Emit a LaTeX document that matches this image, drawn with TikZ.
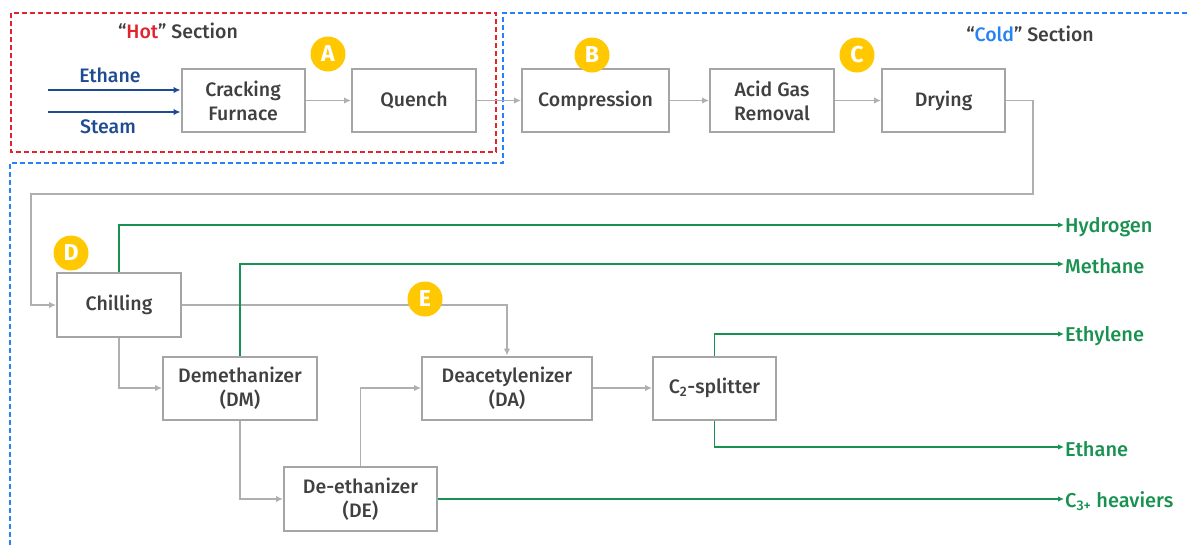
\documentclass[tikz,border=0pt]{standalone}
\usepackage{fontspec}
\setmainfont{Fira Sans}
\newfontfamily\medfont{Fira Sans Medium}
\usetikzlibrary{arrows.meta}
\definecolor{boxgray}{RGB}{165,165,165}
\definecolor{linegray}{RGB}{175,175,175}
\definecolor{txtgray}{RGB}{64,64,64}
\definecolor{flowgreen}{RGB}{25,145,80}
\definecolor{feedblue}{RGB}{30,75,145}
\definecolor{hotred}{RGB}{225,35,45}
\definecolor{coldblue}{RGB}{40,130,245}
\definecolor{badgeyellow}{RGB}{255,200,0}
\tikzset{
  unit/.style={draw=boxgray, line width=2pt, fill=white, text=txtgray, align=center,
    font=\medfont\fontsize{19.5}{24}\selectfont, inner sep=2pt, minimum height=63pt},
  badge/.style={circle, fill=badgeyellow, text=white, minimum size=35pt, inner sep=0pt,
    font=\fontsize{23}{23}\selectfont\bfseries},
  grayflow/.style={draw=linegray, line width=1.4pt, -{Latex[length=7pt,width=6.5pt]}},
  greenflow/.style={draw=flowgreen, line width=1.3pt, -{Latex[length=6pt,width=5.5pt]}},
  blueflow/.style={draw=feedblue, line width=1.4pt, -{Latex[length=7pt,width=6.5pt]}},
  outlabel/.style={anchor=west, inner sep=1pt, text=flowgreen, font=\medfont\fontsize{20}{22}\selectfont},
  feedlabel/.style={inner sep=1pt, text=feedblue, font=\medfont\fontsize{19.5}{22}\selectfont},
  section/.style={inner sep=1pt, text=txtgray, font=\medfont\fontsize{19.5}{22}\selectfont},
  hotbox/.style={draw=hotred, line width=2pt, dash pattern=on 5pt off 3pt},
  coldbox/.style={draw=coldblue, line width=2pt, dash pattern=on 5pt off 3pt}
}
\begin{document}
\begin{tikzpicture}[x=1pt,y=-1pt]
\useasboundingbox (0,0) rectangle (1190,544);

% section frames
\draw[hotbox] (11,13) rectangle (496,152);
\draw[coldbox] (1195,13) -- (503,13) -- (503,163) -- (10,163) -- (10,550);
\node[section] (hot) at (178,31) {“\textcolor{hotred}{Hot}” Section};
\node[section] (cold) at (1030,34) {“\textcolor{coldblue}{Cold}” Section};

% units
\node[unit, minimum width=123pt] (cf) at (243,100.5) {Cracking\\Furnace};
\node[unit, minimum width=124pt] (qu) at (414,100.5) {Quench};
\node[unit, minimum width=147pt] (co) at (595.5,100.5) {Compression};
\node[unit, minimum width=124pt] (ag) at (772,100.5) {Acid Gas\\Removal};
\node[unit, minimum width=123pt] (dr) at (943.5,100.5) {Drying};
\node[unit, minimum width=124pt, minimum height=64pt] (ch) at (119,305) {Chilling};
\node[unit, minimum width=154pt] (dm) at (240,388) {Demethanizer\\(DM)};
\node[unit, minimum width=170pt] (da) at (507,388) {Deacetylenizer\\(DA)};
\node[unit, minimum width=123pt] (c2) at (714.5,388) {C\textsubscript{2}-splitter};
\node[unit, minimum width=153pt, minimum height=64pt] (de) at (360.5,499) {De-ethanizer\\(DE)};

% feeds
\coordinate (ethIn) at (48,90);
\coordinate (stmIn) at (48,112);
\node[feedlabel] (ethL) at (110,75) {Ethane};
\node[feedlabel] (stmL) at (108,127) {Steam};
\draw[blueflow] (ethIn) -- (ethIn -| cf.west);
\draw[blueflow] (stmIn) -- (stmIn -| cf.west);

% gray process flow
\draw[grayflow] (cf.east) -- (qu.west);
\draw[grayflow] (qu.east) -- (co.west);
\draw[grayflow] (co.east) -- (ag.west);
\draw[grayflow] (ag.east) -- (dr.west);
\coordinate (loopA) at (1033,100.5);
\coordinate (loopB) at (1033,194);
\coordinate (loopC) at (31,194);
\draw[grayflow] (dr.east) -- (loopA) -- (loopB) -- (loopC) |- (ch.west);
\draw[grayflow] (ch.east) -- (ch.east -| da.north) -- (da.north);
\draw[grayflow] (ch.south) |- (dm.west);
\draw[grayflow] (dm.south) |- (de.west);
\draw[grayflow] (de.north) |- (da.west);
\draw[grayflow] (da.east) -- (c2.west);

% products
\node[outlabel] (hy) at (1064,227) {Hydrogen};
\node[outlabel] (me) at (1064,266) {Methane};
\node[outlabel] (ey) at (1064,336) {Ethylene};
\node[outlabel] (ea) at (1064,449) {Ethane};
\node[outlabel] (c3) at (1064,501) {C\textsubscript{3+} heaviers};
\draw[greenflow] (ch.north) |- (hy.west |- 0,225);
\draw[greenflow] (dm.north) |- (me.west |- 0,264);
\draw[greenflow] (c2.north) |- (ey.west |- 0,334);
\draw[greenflow] (c2.south) |- (ea.west |- 0,447);
\draw[greenflow] (de.east) -- (c3.west |- de.east);

% badges
\node[badge] (bA) at (328,54) {A};
\node[badge] (bB) at (592,55) {B};
\node[badge] (bC) at (857,55) {C};
\node[badge] (bD) at (71,253) {D};
\node[badge] (bE) at (425,299) {E};
\end{tikzpicture}
\end{document}
